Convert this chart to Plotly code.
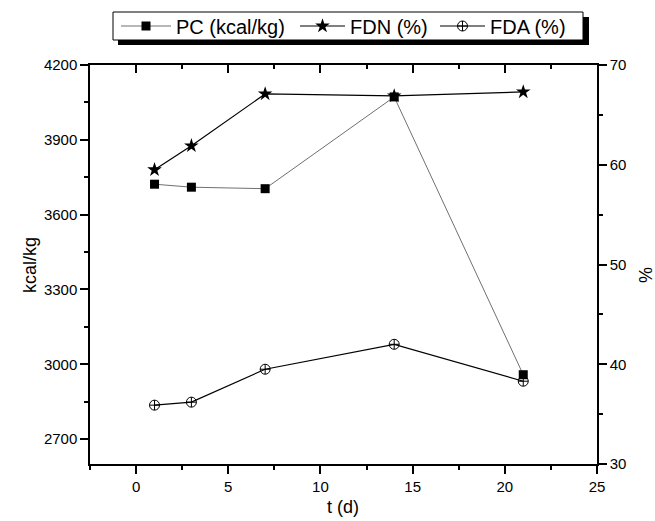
import plotly.graph_objects as go

t_days = [1, 3, 7, 14, 21]
pc_kcal = [3722, 3710, 3704, 4072, 2958]
fdn_pct = [59.5, 61.9, 67.1, 66.9, 67.3]
fda_pct = [35.9, 36.2, 39.5, 42.0, 38.3]

font = "Liberation Sans, Arial, sans-serif"
L, R, T, B = 90, 58, 65, 57
W, H = 655, 521
pw, ph = W - L - R, H - T - B


def px_x(p):
    return (p - L) / pw


def px_y(p):
    return 1 - (p - T) / ph


fig = go.Figure()
fig.add_trace(go.Scatter(x=t_days, y=pc_kcal, name="PC (kcal/kg)", mode="lines+markers",
                         line=dict(color="#707070", width=1),
                         marker=dict(symbol="square", size=9, color="black"),
                         xaxis="x", yaxis="y", legend="legend"))
fig.add_trace(go.Scatter(x=t_days, y=fdn_pct, name="FDN (%)", mode="lines+markers",
                         line=dict(color="black", width=1.2),
                         marker=dict(symbol="star", size=11, color="black"),
                         xaxis="x", yaxis="y2", legend="legend2"))
fig.add_trace(go.Scatter(x=t_days, y=fda_pct, name="FDA (%)", mode="lines+markers",
                         line=dict(color="black", width=1.2),
                         marker=dict(symbol="circle-cross-open", size=10, color="black",
                                     line=dict(width=1)),
                         xaxis="x", yaxis="y2", legend="legend3"))
fig.add_trace(go.Scatter(x=[None], y=[None], xaxis="x3", yaxis="y", showlegend=False, hoverinfo="skip"))

axis_common = dict(showline=True, linecolor="black", linewidth=1.5, showgrid=False,
                   zeroline=False, ticks="outside", ticklen=8, tickwidth=1.5, tickcolor="black",
                   automargin=False,
                   tickfont=dict(family=font, size=15, color="black"))


def leg(xpx, iw):
    return dict(orientation="h", xref="container", yref="container",
                x=xpx / W, xanchor="left", y=1 - 26 / H, yanchor="middle",
                bgcolor="rgba(0,0,0,0)", borderwidth=0,
                font=dict(family=font, size=20, color="black"),
                itemwidth=iw)


fig.update_layout(
    width=W, height=H,
    margin=dict(l=L, r=R, t=T, b=B, autoexpand=False),
    paper_bgcolor="white", plot_bgcolor="white",
    font=dict(family=font, color="black"),
    xaxis=dict(range=[-2.5, 25], dtick=5, tick0=0,
               minor=dict(dtick=2.5, ticklen=4, tickwidth=1.5, tickcolor="black", ticks="outside"),
               **axis_common),
    xaxis3=dict(range=[-2.5, 25], overlaying="x", side="top", showline=True, linecolor="black",
                linewidth=1.5, ticks="inside", ticklen=8, tickwidth=1.5, tickcolor="black",
                dtick=5, tick0=0, showticklabels=False, showgrid=False, zeroline=False,
                minor=dict(dtick=2.5, ticklen=4, tickwidth=1.5, tickcolor="black", ticks="inside")),
    yaxis=dict(range=[2600, 4200], dtick=300, tick0=2700,
               minor=dict(dtick=150, tick0=2700, ticklen=4, tickwidth=1.5, tickcolor="black", ticks="outside"),
               **axis_common),
    yaxis2=dict(range=[30, 70], dtick=10, tick0=30, overlaying="y", side="right",
                minor=dict(dtick=5, ticklen=4, tickwidth=1.5, tickcolor="black", ticks="outside"),
                **axis_common),
    legend=leg(116, 50),
    legend2=leg(295, 45),
    legend3=leg(435, 45),
    annotations=[
        dict(text="t (d)", xref="paper", yref="paper", x=px_x(343), y=px_y(507),
             showarrow=False, font=dict(family=font, size=18), xanchor="center", yanchor="middle"),
        dict(text="kcal/kg", xref="paper", yref="paper", x=px_x(30), y=px_y(265), textangle=-90,
             showarrow=False, font=dict(family=font, size=18), xanchor="center", yanchor="middle"),
        dict(text="%", xref="paper", yref="paper", x=px_x(645), y=px_y(275), textangle=90,
             showarrow=False, font=dict(family=font, size=18), xanchor="center", yanchor="middle"),
    ],
    shapes=[
        dict(type="rect", xref="paper", yref="paper",
             x0=px_x(118), x1=px_x(589), y0=px_y(45), y1=px_y(17),
             fillcolor="black", line=dict(width=0), layer="above"),
        dict(type="rect", xref="paper", yref="paper",
             x0=px_x(113), x1=px_x(583), y0=px_y(40), y1=px_y(12),
             fillcolor="white", line=dict(color="black", width=1), layer="above"),
    ],
)

fig.write_html("out.html", config={"displayModeBar": False},
               post_script="document.body.style.margin='0px';")
